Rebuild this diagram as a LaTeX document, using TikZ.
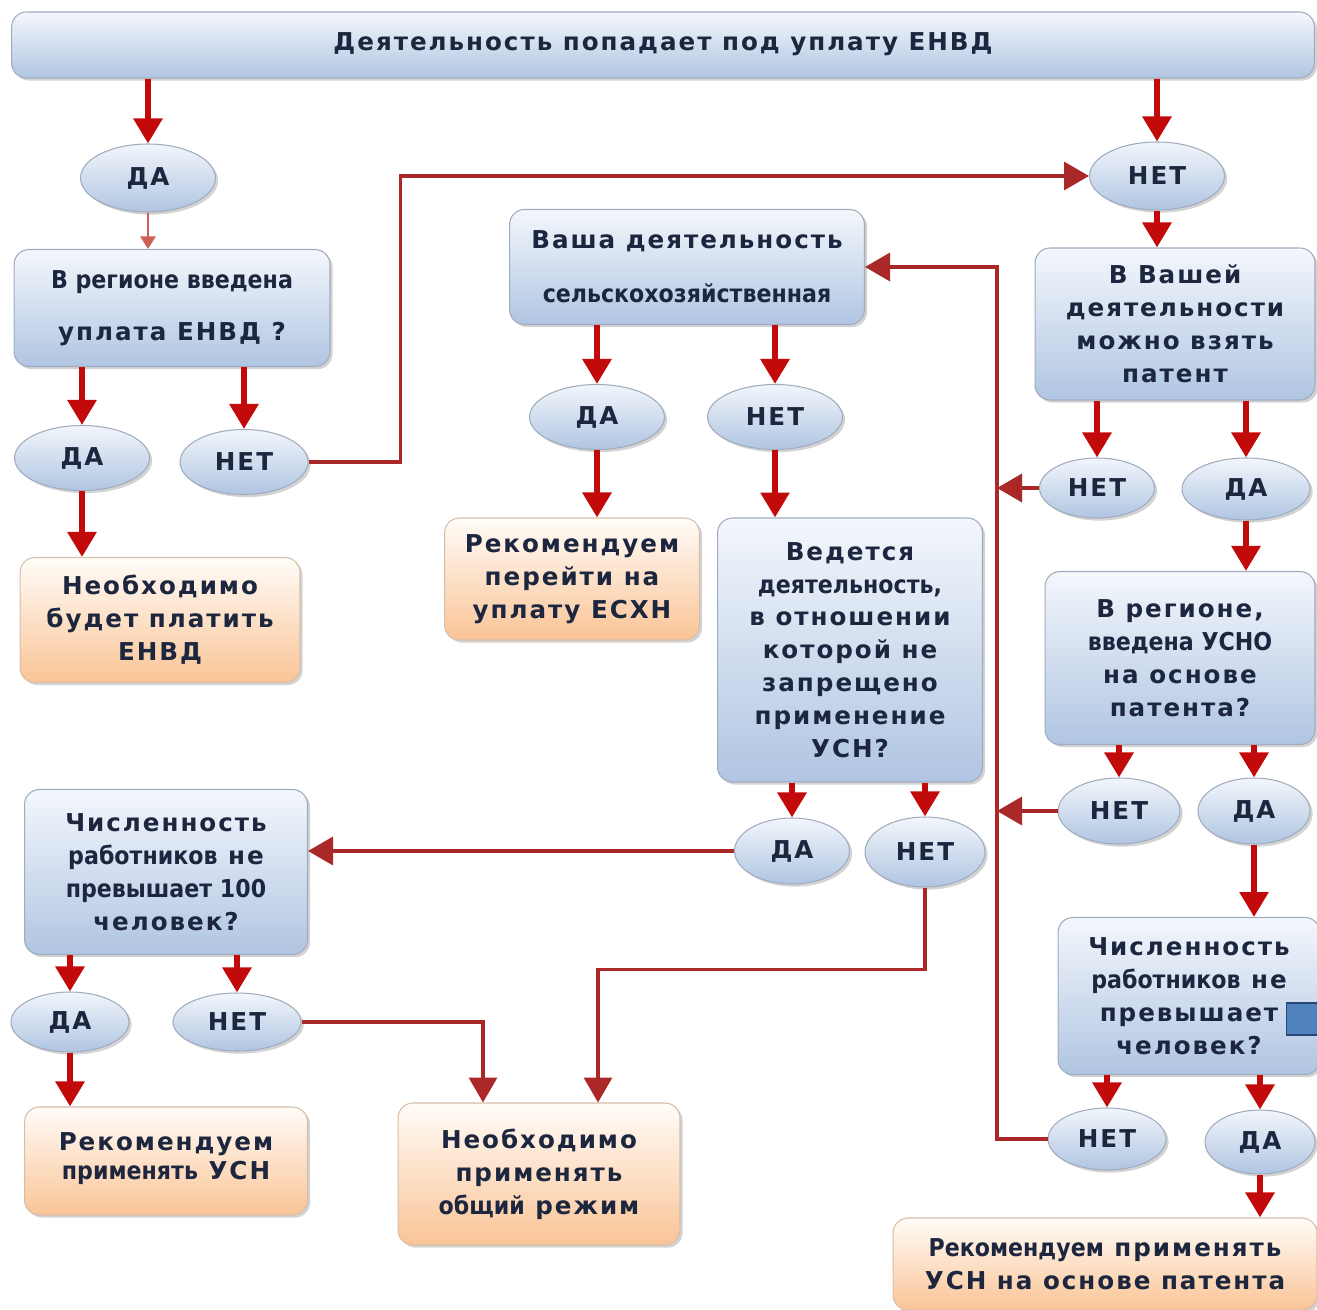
\documentclass[tikz,border=0pt]{standalone}
\usepackage{fontspec}
\setmainfont{DejaVu Sans}[LetterSpace=8]
\newfontfamily\plainfont{DejaVu Sans}[FakeStretch=0.9]
\usetikzlibrary{arrows.meta,shapes.geometric,shadows,calc}

\definecolor{ink}{RGB}{28,38,62}
\definecolor{boxtop}{RGB}{244,247,252}
\definecolor{boxbot}{RGB}{176,197,226}
\definecolor{boxline}{RGB}{160,172,190}
\definecolor{choicetop}{RGB}{242,246,251}
\definecolor{restop}{RGB}{255,252,248}
\definecolor{resbot}{RGB}{250,196,150}
\definecolor{resline}{RGB}{215,190,170}
\definecolor{arrred}{RGB}{195,10,10}
\definecolor{linkred}{RGB}{170,40,40}
\definecolor{hintred}{RGB}{205,95,85}
\definecolor{blankfill}{RGB}{79,129,189}
\definecolor{blankline}{RGB}{40,70,120}

\begin{document}
\begin{tikzpicture}
  [
    x = 0.02cm, y = -0.02cm,
    font = \fontsize{14}{18.7}\selectfont\bfseries,
    text = ink,
    box/.style = {rounded corners = 0.3cm, draw = boxline, line width = 0.6pt,
        top color = boxtop, bottom color = boxbot, align = center, inner sep = 2pt,
        drop shadow = {opacity = 0.35, shadow xshift = 1.5pt, shadow yshift = -1.5pt}},
    result/.style = {box, top color = restop, bottom color = resbot, draw = resline},
    choice/.style = {ellipse, draw = boxline, line width = 0.6pt, inner sep = 0pt,
        top color = choicetop, bottom color = boxbot,
        drop shadow = {opacity = 0.35, shadow xshift = 1.5pt, shadow yshift = -1.5pt}},
    arr/.style = {draw = arrred, line width = 0.12cm, -{Triangle[length = 0.5cm, width = 0.56cm]}},
    link/.style = {draw = linkred, line width = 0.07cm},
    linkarr/.style = {link, -{Triangle[length = 0.5cm, width = 0.56cm]}},
    hint/.style = {draw = hintred, line width = 0.05cm, -{Triangle[length = 0.25cm, width = 0.3cm]}},
  ]

  \useasboundingbox (0,0) rectangle (1317,1310);

  \node (banner) [box, minimum width = 26.06cm, minimum height = 1.32cm] at (663,45)
    {\raisebox{0.15cm}{Деятельность попадает под уплату ЕНВД}};

  \node (da1) [choice, minimum width = 2.7cm, minimum height = 1.36cm] at (148,178) {ДА};
  \node (net1) [choice, minimum width = 2.7cm, minimum height = 1.36cm] at (1157,176) {НЕТ};

  \node (region) [box, minimum width = 6.32cm, minimum height = 2.34cm] at (172,308)
    {{\plainfont В регионе введена}\\[11pt]уплата ЕНВД ?};
  \node (da2) [choice, minimum width = 2.7cm, minimum height = 1.3cm] at (82,458) {ДА};
  \node (net2) [choice, minimum width = 2.56cm, minimum height = 1.3cm] at (244,462) {НЕТ};
  \node (envd) [result, minimum width = 5.6cm, minimum height = 2.5cm] at (160,620)
    {Необходимо\\будет платить\\ЕНВД};

  \node (agri) [box, minimum width = 7.1cm, minimum height = 2.3cm] at (687,267)
    {Ваша деятельность\\[12pt]{\plainfont сельскохозяйственная}};
  \node (da3) [choice, minimum width = 2.7cm, minimum height = 1.3cm] at (597,417) {ДА};
  \node (net3) [choice, minimum width = 2.7cm, minimum height = 1.3cm] at (775,417) {НЕТ};
  \node (eshn) [result, minimum width = 5.1cm, minimum height = 2.44cm] at (572,579)
    {Рекомендуем\\перейти на\\уплату ЕСХН};
  \node (usn) [box, minimum width = 5.3cm, minimum height = 5.28cm] at (850,650)
    {Ведется\\{\plainfont деятельность,}\\в отношении\\которой не\\запрещено\\применение\\УСН?};

  \node (patent) [box, minimum width = 5.6cm, minimum height = 3.04cm] at (1175,324)
    {В Вашей\\деятельности\\можно взять\\патент};
  \node (net4) [choice, minimum width = 2.3cm, minimum height = 1.2cm] at (1097,488) {НЕТ};
  \node (da4) [choice, minimum width = 2.56cm, minimum height = 1.24cm] at (1246,489) {ДА};
  \node (usno) [box, minimum width = 5.4cm, minimum height = 3.46cm] at (1180,658)
    {В регионе,\\{\plainfont введена УСНО}\\на основе\\патента?};
  \node (net5) [choice, minimum width = 2.44cm, minimum height = 1.32cm] at (1119,811) {НЕТ};
  \node (da5) [choice, minimum width = 2.24cm, minimum height = 1.32cm] at (1254,811) {ДА};
  \node (staff2) [box, minimum width = 5.24cm, minimum height = 3.14cm] at (1189,996)
    {Численность\\{\plainfont работников} не\\превышает\hspace{1.6em}\\человек?};
  \node (blank) [fill = blankfill, draw = blankline, line width = 1pt, inner sep = 0pt,
    minimum width = 0.7cm, minimum height = 0.64cm] at (1304,1019) {};
  \node (net6) [choice, minimum width = 2.36cm, minimum height = 1.24cm] at (1107,1139) {НЕТ};
  \node (da6) [choice, minimum width = 2.2cm, minimum height = 1.28cm] at (1260,1142) {ДА};
  \node (patentusn) [result, minimum width = 8.48cm, minimum height = 1.84cm] at (1105,1264)
    {{\plainfont Рекомендуем} применять\\УСН на основе патента};

  \node (da7) [choice, minimum width = 2.3cm, minimum height = 1.32cm] at (792,851) {ДА};
  \node (net7) [choice, minimum width = 2.4cm, minimum height = 1.4cm] at (925,852) {НЕТ};
  \node (staff1) [box, minimum width = 5.66cm, minimum height = 3.3cm] at (166,872)
    {Численность\\{\plainfont работников} не\\{\plainfont превышает 100}\\человек?};
  \node (da8) [choice, minimum width = 2.36cm, minimum height = 1.2cm] at (70,1022) {ДА};
  \node (net8) [choice, minimum width = 2.56cm, minimum height = 1.16cm] at (237,1022) {НЕТ};
  \node (usnrec) [result, minimum width = 5.66cm, minimum height = 2.16cm] at (166,1161)
    {\raisebox{0.2cm}{\shortstack{Рекомендуем\\{\plainfont применять} УСН}}};
  \node (obsh) [result, minimum width = 5.64cm, minimum height = 2.84cm] at (539,1174)
    {Необходимо\\применять\\{\plainfont общий} режим};

  \draw[arr] (banner.south -| da1.north) -- (da1.north);
  \draw[arr] (banner.south -| net1.north) -- (net1.north);
  \draw[hint] (da1.south) -- (da1.south |- region.north);
  \draw[arr] (da2.north |- region.south) -- (da2.north);
  \draw[arr] (net2.north |- region.south) -- (net2.north);
  \draw[arr] (da2.south) -- (da2.south |- envd.north);
  \draw[linkarr] (net2.east) -- ++(92,0) |- (net1.west);
  \draw[arr] (net1.south) -- (net1.south |- patent.north);

  \draw[arr] (da3.north |- agri.south) -- (da3.north);
  \draw[arr] (net3.north |- agri.south) -- (net3.north);
  \draw[arr] (da3.south) -- (da3.south |- eshn.north);
  \draw[arr] (net3.south) -- (net3.south |- usn.north);

  \draw[arr] (net4.north |- patent.south) -- (net4.north);
  \draw[arr] (da4.north |- patent.south) -- (da4.north);
  \draw[arr] (da4.south) -- (da4.south |- usno.north);
  \draw[arr] (net5.north |- usno.south) -- (net5.north);
  \draw[arr] (da5.north |- usno.south) -- (da5.north);
  \draw[arr] (da5.south) -- (da5.south |- staff2.north);
  \draw[arr] (net6.north |- staff2.south) -- (net6.north);
  \draw[arr] (da6.north |- staff2.south) -- (da6.north);
  \draw[arr] (da6.south) -- (da6.south |- patentusn.north);

  \coordinate (bus) at (997,267);
  \draw[linkarr] (net6.west) -| (bus) -- (agri.east);
  \foreach \n in {net4, net5}{
      \draw[linkarr] (\n.west) -- (\n.west -| bus);
    }

  \draw[arr] (da7.north |- usn.south) -- (da7.north);
  \draw[arr] (net7.north |- usn.south) -- (net7.north);
  \draw[linkarr] (da7.west) -- (da7.west -| staff1.east);
  \draw[linkarr] (net7.south) -- ++(0,82) -| ($(obsh.north)+(59,0)$);

  \draw[arr] (da8.north |- staff1.south) -- (da8.north);
  \draw[arr] (net8.north |- staff1.south) -- (net8.north);
  \draw[arr] (da8.south) -- (da8.south |- usnrec.north);
  \draw[linkarr] (net8.east) -| ($(obsh.north)+(-56,0)$);

\end{tikzpicture}
\end{document}
